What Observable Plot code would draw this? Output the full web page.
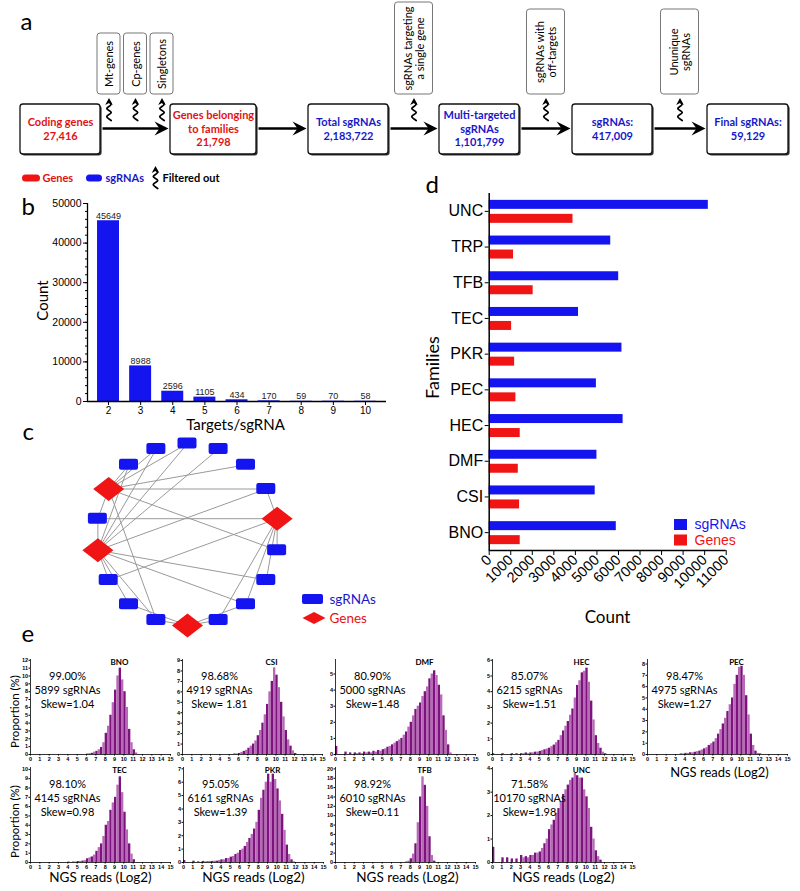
<!DOCTYPE html>
<html><head><meta charset="utf-8">
<script src="https://cdn.jsdelivr.net/npm/d3@7"></script>
<script src="https://cdn.jsdelivr.net/npm/@observablehq/plot@0.6"></script>
<style>
body{margin:0;background:#fff;}
#fig{position:relative;width:800px;height:891px;overflow:hidden;background:#fff;}
</style></head><body><div id="fig"></div>
<script>
// ---------------- DATA ----------------
// panel a: pipeline
const stepLabels = ["Coding genes\n27,416", "Genes belonging\nto families\n21,798", "Total sgRNAs\n2,183,722", "Multi-targeted\nsgRNAs\n1,101,799", "sgRNAs:\n417,009", "Final sgRNAs:\n59,129"];
const stepKind = ["Genes", "Genes", "sgRNAs", "sgRNAs", "sgRNAs", "sgRNAs"];
const filterLabels = ["Mt-genes", "Cp-genes", "Singletons", "sgRNAs targeting\na single gene", "sgRNAs with\noff-targets", "Ununique\nsgRNAs"];
const filterGap = [0, 0, 0, 2, 3, 4];
const legendALabels = ["Genes", "sgRNAs", "Filtered out"];
// panel b
const targetsPerSgRNA = [2, 3, 4, 5, 6, 7, 8, 9, 10];
const sgRNACount = [45649, 8988, 2596, 1105, 434, 170, 59, 70, 58];
// panel c: network (18 nodes around a circle, clockwise from top)
const netNodeType = ["sgRNA","sgRNA","sgRNA","sgRNA","gene","sgRNA","sgRNA","sgRNA","sgRNA","gene","sgRNA","sgRNA","sgRNA","gene","sgRNA","gene","sgRNA","sgRNA"];
const netEdges = [[15,16],[15,17],[15,0],[15,2],[15,3],[15,5],[15,10],[15,14],
  [13,16],[13,17],[13,0],[13,1],[13,14],[13,12],[13,11],[13,10],[13,6],[13,7],[13,3],
  [4,3],[4,5],[4,6],[4,7],[4,8],[4,14],[4,12],
  [9,8],[9,10],[9,11],[9,7]];
// panel d
const families = ["UNC", "TRP", "TFB", "TEC", "PKR", "PEC", "HEC", "DMF", "CSI", "BNO"];
const familySgRNAs = [10170, 5640, 6010, 4145, 6161, 4975, 6215, 5000, 4919, 5899];
const familyGenes = [3890, 1130, 2040, 1040, 1180, 1240, 1440, 1350, 1410, 1440];
// panel e
const ePanels = ["BNO", "CSI", "DMF", "HEC", "PEC", "TEC", "PKR", "TFB", "UNC"];
const eCoverage = ["99.00%", "98.68%", "80.90%", "85.07%", "98.47%", "98.10%", "95.05%", "98.92%", "71.58%"];
const eSgRNAs = [5899, 4919, 5000, 6215, 4975, 4145, 6161, 6010, 10170];
const eSkew = ["1.04", " 1.81", "1.48", "1.51", "1.27", "0.98", "1.39", "0.11", "1.98"];
const eBinStart = [6, 5.5, 0, 0, 3.5, 4, 0, 7.5, 0];   // first bin (log2 reads), bins 0.25 wide
const eYMax = [12, 9, 5, 6, 8, 10, 7, 20, 4];
const eYStep = [1, 1, 1, 1, 1, 1, 1, 2, 1];
const propBNO = [0.05,0.1,0.15,0.3, 0.4,0.6,0.9,1.5, 2.7,3.6,5.0,6.6, 8.2,10.0,11.0,9.5, 8.0,6.0,3.2,1.5, 0.6,0.2];
const propCSI = [0.05,0.05, 0.1,0.2,0.3,0.4, 0.6,0.8,1.0,1.3, 1.8,2.3,3.0,3.8, 4.8,6.0,7.0,8.3, 7.6,6.4,5.0,3.6, 2.3,1.4,0.8,0.35, 0.1];
const propDMF = [0.5,0,0,0, 0.15,0,0.1,0, 0.1,0.05,0.1,0.05, 0.15,0.1,0.15,0.1, 0.2,0.15,0.25,0.2, 0.3,0.35,0.45,0.5, 0.6,0.7,0.8,0.9, 1.0,1.2,1.4,1.7, 2.0,2.4,2.8,3.0, 3.2,3.6,3.9,4.2, 4.7,5.0,5.2,4.9, 4.3,3.7,2.4,1.5, 0.6,0.1];
const propHEC = [0.05,0,0,0, 0.05,0,0,0, 0.05,0,0.05,0, 0.05,0.05,0.1,0.05, 0.1,0.1,0.15,0.15, 0.2,0.25,0.3,0.35, 0.4,0.5,0.6,0.75, 0.9,1.2,1.5,1.8, 2.1,2.5,2.9,3.6, 4.4,4.7,5.2,5.3, 5.5,4.6,3.4,2.2, 1.2,0.7,0.4,0.15, 0.05];
const propPEC = [0.05,0.05, 0.1,0.1,0.15,0.15, 0.2,0.25,0.3,0.4, 0.5,0.6,0.8,0.95, 1.1,1.4,1.8,2.2, 2.7,3.2,3.8,4.4, 5.0,6.2,7.0,7.7, 7.8,7.0,5.2,3.5, 1.8,0.8,0.3,0.1, 0.05];
const propTEC = [0.05,0,0.05,0.05, 0.1,0.1,0.15,0.2, 0.4,0.5,0.6,0.8, 1.2,1.6,2.0,2.8, 4.0,4.4,5.6,6.4, 7.0,8.3,9.2,7.5, 5.4,3.5,2.0,0.9, 0.3];
const propPKR = [0.15,0,0,0, 0.1,0,0.05,0, 0.08,0.05,0.05,0.08, 0.08,0.1,0.1,0.15, 0.2,0.2,0.3,0.3, 0.4,0.45,0.6,0.7, 0.9,1.0,1.2,1.5, 1.8,2.1,2.5,3.0, 3.9,4.8,5.4,6.0, 6.6,6.0,6.6,6.2, 5.5,4.6,3.6,2.4, 1.3,0.6,0.2,0.05];
const propTFB = [0.1,0.3, 0.8,1.8,4.0,8.5, 14.0,18.3,16.5,12.0, 5.5,1.5,0.3];
const propUNC = [0.65,0,0,0, 0.2,0,0.2,0, 0.15,0,0.15,0, 0.3,0.2,0.25,0.2, 0.3,0.3,0.4,0.4, 0.45,0.6,0.8,1.0, 1.4,1.6,1.8,2.1, 2.3,2.6,2.9,3.1, 3.3,3.5,3.6,3.8, 3.7,3.6,3.6,3.1, 2.8,2.3,1.5,1.0, 0.5,0.25,0.1];
const eSeries = [propBNO, propCSI, propDMF, propHEC, propPEC, propTEC, propPKR, propTFB, propUNC];

// ---------------- STYLE / LAYOUT ----------------
const CAL = "Lato, 'Noto Sans', sans-serif";
const ARIAL = "'Liberation Sans', Arial, sans-serif";
const TXT_RED = "#e31212", TXT_BLUE = "#1818c8";
const BAR_BLUE = "#1414f0", BAR_RED = "#f01414";
const kindColor = {Genes: TXT_RED, sgRNAs: TXT_BLUE};
const baseStyle = {background: "transparent", fontFamily: ARIAL, overflow: "visible", color: "#000"};
const fig = document.getElementById("fig");
function show(svg, left, top) {
  svg.style.position = "absolute"; svg.style.left = left + "px"; svg.style.top = top + "px";
  svg.style.maxWidth = "none";
  fig.appendChild(svg);
}
const arrowRight = {draw(c) { c.moveTo(0, 0); c.lineTo(-14, -7); c.lineTo(-9, 0); c.lineTo(-14, 7); c.closePath(); }};
const arrowUp = {draw(c) { c.moveTo(0, 0); c.lineTo(-3.8, 7); c.lineTo(0, 5); c.lineTo(3.8, 7); c.closePath(); }};
function diamond(hw, hh) { return {draw(c) { c.moveTo(-hw, 0); c.lineTo(0, -hh); c.lineTo(hw, 0); c.lineTo(0, hh); c.closePath(); }}; }

// ---------------- PANEL b ----------------
const bData = targetsPerSgRNA.map((t, i) => ({t, count: sgRNACount[i]}));
const bX0 = 1.346, bX1 = 10.654, bHalf = 0.342;
show(Plot.plot({
  width: 400, height: 240, marginLeft: 87, marginRight: 14, marginTop: 13, marginBottom: 29,
  style: baseStyle,
  x: {domain: [bX0, bX1]}, y: {domain: [0, 50000]},
  marks: [
    Plot.rect(bData, {x1: d => d.t - bHalf, x2: d => d.t + bHalf, y1: d => 0, y2: "count", fill: BAR_BLUE}),
    Plot.text(bData, {x: "t", y: "count", text: d => String(d.count), dy: -5, fontSize: 9, fill: "#222"}),
    Plot.ruleY([0], {strokeWidth: 1.3}),
    Plot.ruleX([bX0], {strokeWidth: 1.3}),
    Plot.axisX({ticks: targetsPerSgRNA, tickSize: 4, tickPadding: 1, fontSize: 10, label: null, tickFormat: d => String(d)}),
    Plot.axisY({ticks: d3.range(0, 50001, 10000), tickSize: 4, tickPadding: 2, fontSize: 10.5, label: null, tickFormat: d => String(d)}),
    Plot.axisY({ticks: d3.range(0, 50001, 2000), tickSize: 2, label: null, tickFormat: () => ""})
  ]
}), 0, 190);

// ---------------- PANEL d ----------------
const dData = families.map((f, i) => ({i, f, sg: familySgRNAs[i], genes: familyGenes[i]}));
show(Plot.plot({
  width: 400, height: 460, marginLeft: 88.7, marginRight: 74.3, marginTop: 23, marginBottom: 80,
  style: baseStyle,
  x: {domain: [0, 11000]}, y: {domain: [-0.5, 9.5], reverse: true},
  marks: [
    Plot.rect(dData, {x1: d => 0, x2: "sg", y1: d => d.i - 0.308, y2: d => d.i - 0.056, fill: BAR_BLUE}),
    Plot.rect(dData, {x1: d => 0, x2: "genes", y1: d => d.i + 0.084, y2: d => d.i + 0.336, fill: BAR_RED}),
    Plot.ruleX([0], {strokeWidth: 1.5}),
    Plot.ruleY([9.5], {strokeWidth: 1.5}),
    Plot.axisX({ticks: d3.range(0, 11001, 1000), tickSize: 5, tickPadding: 2, tickRotate: -45, fontSize: 14.5, label: null, tickFormat: d => String(d)}),
    Plot.axisY({ticks: d3.range(families.length), tickSize: 4, tickPadding: 2, fontSize: 16, label: null, tickFormat: i => families[i]})
  ]
}), 400, 170);

// ---------------- PANEL e ----------------
const eAxisLeft = [30, 182, 335, 492, 647, 30, 183, 335, 492];
const eYTop = [12.1, 9.1, 5.9, 6.05, 8.4, 10.2, 7.1, 20.3, 4.05];
const binW = 0.25;
ePanels.forEach((name, i) => {
  const rows = eSeries[i].map((v, k) => ({x: eBinStart[i] + k * binW, v, k}));
  const top = i < 5 ? 659 : 767;
  const stats = `${eCoverage[i]}\n${eSgRNAs[i]} sgRNAs\nSkew=${eSkew[i]}`;
  show(Plot.plot({
    width: 160, height: 120, marginLeft: 12, marginRight: 8, marginTop: 6, marginBottom: 19,
    style: baseStyle, color: {type: "identity"},
    x: {domain: [0, 15]}, y: {domain: [0, eYTop[i]]},
    marks: [
      Plot.rect(rows, {x1: "x", x2: d => d.x + binW, y1: d => 0, y2: "v", fill: d => d.k % 2 ? "#b86ab8" : "#7d147d"}),
      Plot.ruleX([0], {strokeWidth: 0.8}),
      Plot.ruleY([0], {strokeWidth: 0.8}),
      Plot.axisX({ticks: d3.range(0, 16), tickSize: 1.5, tickPadding: 1, fontSize: 5.5, fontWeight: "bold", label: null, tickFormat: d => String(d)}),
      Plot.axisY({ticks: d3.range(0, eYMax[i] + 0.01, eYStep[i]), tickSize: 1.5, tickPadding: 1, fontSize: 5.5, fontWeight: "bold", label: null, tickFormat: d => String(d)}),
      Plot.text([name], {frameAnchor: "top-left", dx: 89, dy: 3, textAnchor: "middle", lineAnchor: "middle", fontSize: 8, fontWeight: "bold", fontFamily: CAL}),
      Plot.text([stats], {frameAnchor: "top-left", dx: 37, dy: 30, textAnchor: "middle", lineAnchor: "middle", fontSize: 11, lineHeight: 1.27, fontFamily: CAL})
    ]
  }), eAxisLeft[i] - 12, top - 6);
});

// ---------------- OVERLAY: panel a, c, letters, titles ----------------
const boxW = [80, 86, 80, 80, 80, 81], gapW = [70, 52, 51, 53, 55];
const boxY1 = 104, boxY2 = 154, flowY = 128;
let cursor = 20;
const boxes = stepLabels.map((label, i) => {
  const b = {label, kind: stepKind[i], x1: cursor, x2: cursor + boxW[i]};
  cursor = b.x2 + (gapW[i] || 0);
  return b;
});
const flowArrows = boxes.slice(1).map((b, i) => ({x1: boxes[i].x2 + 2, x2: b.x1 - 2}));
const filterTop = [33, 33, 33, 2, 9, 9];
const filters = filterLabels.map((label, j) => {
  const g = filterGap[j];
  const gc = (boxes[g].x2 + boxes[g + 1].x1) / 2;
  const sibs = filterGap.filter(v => v === g).length;
  const k = filterGap.slice(0, j).filter(v => v === g).length;
  const w = label.includes("\n") ? 38 : 23;
  const cx = gc + (k - (sibs - 1) / 2) * 26.5;
  return {label, cx, x1: cx - w / 2, x2: cx + w / 2, y1: filterTop[j], y2: 94};
});
const squigTemplate = [[2.2, 0], [-2.2, -4], [2.2, -8], [-2.2, -12], [2, -16], [0, -19]];
const squigOrigins = filters.map(f => ({cx: f.cx, base: 120})).concat([{cx: 155, base: 188}]);
const squigPts = squigOrigins.flatMap((o, id) => squigTemplate.map(([dx, dy]) => ({id, x: o.cx + dx, y: o.base + dy})));
const squigHeads = squigOrigins.map(o => ({x: o.cx, y: o.base - 22.5}));
const legendA = [
  {x1: 22, x2: 40, tx: 42, color: TXT_RED, label: legendALabels[0]},
  {x1: 86, x2: 102, tx: 105, color: TXT_BLUE, label: legendALabels[1]}
];

const netCx = 187, netCy = 534, netR = 91;
const nodes = netNodeType.map((type, i) => {
  const a = (90 - i * 20) * Math.PI / 180;
  return {type, x: netCx + netR * Math.cos(a), y: netCy - netR * Math.sin(a)};
});

const letters = [
  {t: "a", x: 20, y: 22.3}, {t: "b", x: 21, y: 207}, {t: "c", x: 22, y: 432},
  {t: "d", x: 425, y: 185}, {t: "e", x: 21, y: 634}
];
const horizTitles = [
  {t: "Targets/sgRNA", x: 235, y: 425, size: 15, w: "normal"},
  {t: "Count", x: 607, y: 617, size: 17, w: "bold"},
  {t: "NGS reads (Log2)", x: 100, y: 877, size: 13.5, w: "normal"},
  {t: "NGS reads (Log2)", x: 253, y: 877, size: 13.5, w: "normal"},
  {t: "NGS reads (Log2)", x: 407, y: 877, size: 13.5, w: "normal"},
  {t: "NGS reads (Log2)", x: 563, y: 877, size: 13.5, w: "normal"},
  {t: "NGS reads (Log2)", x: 719, y: 772, size: 13, w: "normal"}
];
const vertTitles = [
  {t: "Count", x: 43, y: 300, size: 15, w: "normal"},
  {t: "Families", x: 433, y: 367, size: 18, w: "bold"},
  {t: "Proportion (%)", x: 15, y: 711, size: 11.5, w: "normal"},
  {t: "Proportion (%)", x: 15, y: 821, size: 11.5, w: "normal"}
];

show(Plot.plot({
  width: 800, height: 891, margin: 0,
  style: baseStyle,
  x: {type: "identity", axis: null}, y: {type: "identity", axis: null}, color: {type: "identity"},
  marks: [
    // panel a: main boxes
    Plot.rect(boxes, {x1: d => d.x1 + 1.6, x2: d => d.x2 + 1.6, y1: boxY1 + 1.6, y2: boxY2 + 1.6, fill: "#333", rx: 3}),
    Plot.rect(boxes, {x1: "x1", x2: "x2", y1: boxY1, y2: boxY2, fill: "white", stroke: "#111", strokeWidth: 1.3, rx: 3}),
    Plot.text(boxes, {x: d => (d.x1 + d.x2) / 2, y: flowY, text: "label", fill: d => kindColor[d.kind], fontWeight: "bold", fontSize: 11, lineHeight: 1.22, fontFamily: CAL}),
    Plot.link(flowArrows, {x1: "x1", x2: d => d.x2 - 8, y1: flowY, y2: flowY, stroke: "#000", strokeWidth: 2.6}),
    Plot.dot(flowArrows, {x: "x2", y: flowY, symbol: arrowRight, fill: "#000", stroke: "none"}),
    // filter boxes
    Plot.rect(filters, {x1: "x1", x2: "x2", y1: "y1", y2: "y2", fill: "white", stroke: "#777", strokeWidth: 1, rx: 3}),
    Plot.text(filters, {x: "cx", y: d => (d.y1 + d.y2) / 2, text: "label", rotate: -90, fontSize: 11, lineHeight: 1.15, fontFamily: CAL, fill: "#000"}),
    Plot.line(squigPts, {x: "x", y: "y", z: "id", stroke: "#000", strokeWidth: 1.8, curve: "catmull-rom"}),
    Plot.dot(squigHeads, {x: "x", y: "y", symbol: arrowUp, fill: "#000", stroke: "none"}),
    // legend a
    Plot.rect(legendA, {x1: "x1", x2: "x2", y1: 174.5, y2: 181.5, fill: d => d.color === TXT_RED ? BAR_RED : BAR_BLUE, rx: 3.5}),
    Plot.text(legendA, {x: "tx", y: 178, text: "label", fill: "color", textAnchor: "start", fontWeight: "bold", fontSize: 11, fontFamily: CAL}),
    Plot.text([legendALabels[2]], {x: 162, y: 178, text: d => d, textAnchor: "start", fontWeight: "bold", fontSize: 11, fontFamily: CAL, fill: "#000"}),
    // panel c: network
    Plot.link(netEdges, {x1: e => nodes[e[0]].x, y1: e => nodes[e[0]].y, x2: e => nodes[e[1]].x, y2: e => nodes[e[1]].y, stroke: "#9a9a9a", strokeWidth: 1}),
    Plot.rect(nodes.filter(d => d.type === "sgRNA"), {x1: d => d.x - 9.5, x2: d => d.x + 9.5, y1: d => d.y - 5.5, y2: d => d.y + 5.5, fill: BAR_BLUE, rx: 2}),
    Plot.dot(nodes.filter(d => d.type === "gene"), {x: "x", y: "y", symbol: diamond(15.5, 12), fill: BAR_RED, stroke: "none"}),
    // legend c
    Plot.rect([0], {x1: 302, x2: 323, y1: 594, y2: 604, fill: BAR_BLUE, rx: 2}),
    Plot.dot([0], {x: 313.5, y: 617.5, symbol: diamond(11.5, 6), fill: BAR_RED, stroke: "none"}),
    Plot.text(["sgRNAs", "Genes"], {x: 329, y: (d, i) => i === 0 ? 599 : 618, text: d => d, textAnchor: "start", fontSize: 13.5, fontFamily: CAL, fill: (d, i) => i === 0 ? TXT_BLUE : TXT_RED}),
    // legend d
    Plot.rect(["sgRNAs", "Genes"], {x1: 674, x2: 687, y1: (d, i) => i === 0 ? 519 : 534.5, y2: (d, i) => i === 0 ? 530 : 545.5, fill: (d, i) => i === 0 ? BAR_BLUE : BAR_RED}),
    Plot.text(["sgRNAs", "Genes"], {x: 694, y: (d, i) => i === 0 ? 524.5 : 540, text: d => d, textAnchor: "start", fontSize: 14, fontFamily: ARIAL, fill: (d, i) => i === 0 ? BAR_BLUE : BAR_RED}),
    // letters and axis titles
    Plot.text(letters, {x: "x", y: "y", text: "t", textAnchor: "start", fontSize: 24, fontFamily: CAL, fill: "#000"}),
    Plot.text(horizTitles, {x: "x", y: "y", text: "t", fontSize: d => d.size, fontWeight: d => d.w, fontFamily: CAL, fill: "#000"}),
    Plot.text(vertTitles, {x: "x", y: "y", text: "t", rotate: -90, fontSize: d => d.size, fontWeight: d => d.w, fontFamily: CAL, fill: "#000"})
  ]
}), 0, 0);
</script></body></html>
